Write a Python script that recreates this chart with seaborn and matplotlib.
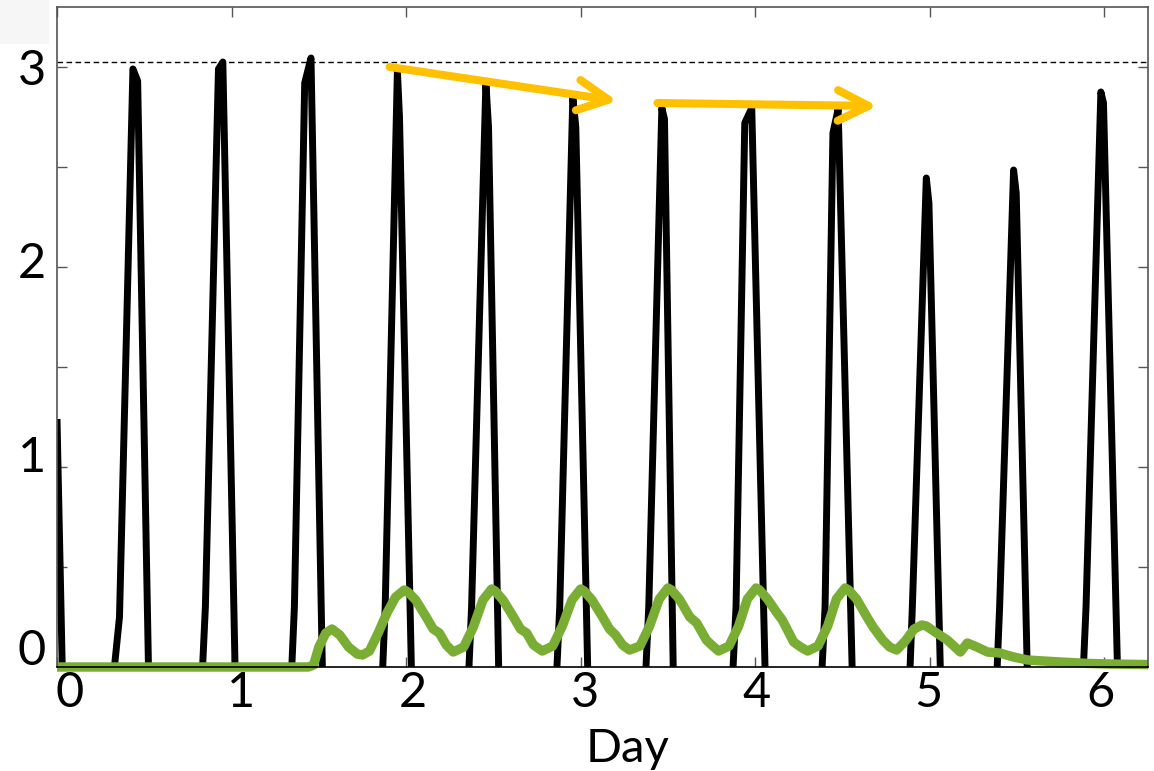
import matplotlib
matplotlib.use("Agg")
import matplotlib.pyplot as plt
from matplotlib.patches import Rectangle
from matplotlib.transforms import ScaledTranslation
import seaborn as sns
import pandas as pd

# Black trace: vertices (day, level), one group per pulse
black_day = [0.0, 0.03,
             0.329, 0.358, 0.435, 0.462, 0.524,
             0.834, 0.850, 0.925, 0.950, 1.020,
             1.345, 1.360, 1.419, 1.455, 1.520,
             1.866, 1.880, 1.950, 1.962, 2.030,
             2.360, 2.375, 2.457, 2.472, 2.530,
             2.864, 2.880, 2.955, 2.972, 3.040,
             3.374, 3.390, 3.465, 3.480, 3.530,
             3.873, 3.890, 3.940, 3.980, 4.056,
             4.383, 4.400, 4.445, 4.475, 4.555,
             4.887, 4.900, 4.980, 4.995, 5.060,
             5.386, 5.400, 5.480, 5.495, 5.558,
             5.880, 5.895, 5.980, 5.995, 6.075]
black_level = [1.24, 0.0,
               0.0, 0.25, 2.99, 2.93, 0.0,
               0.0, 0.30, 2.99, 3.025, 0.0,
               0.0, 0.30, 2.92, 3.045, 0.0,
               0.0, 0.30, 2.98, 2.75, 0.0,
               0.0, 0.30, 2.92, 2.70, 0.0,
               0.0, 0.30, 2.85, 2.70, 0.0,
               0.0, 0.30, 2.795, 2.74, 0.0,
               0.0, 0.30, 2.72, 2.795, 0.0,
               0.0, 0.30, 2.67, 2.79, 0.0,
               0.0, 0.30, 2.445, 2.32, 0.0,
               0.0, 0.30, 2.485, 2.37, 0.0,
               0.0, 0.30, 2.875, 2.82, 0.0]
black_pulse = [0, 0,
               1, 1, 1, 1, 1,
               2, 2, 2, 2, 2,
               3, 3, 3, 3, 3,
               4, 4, 4, 4, 4,
               5, 5, 5, 5, 5,
               6, 6, 6, 6, 6,
               7, 7, 7, 7, 7,
               8, 8, 8, 8, 8,
               9, 9, 9, 9, 9,
               10, 10, 10, 10, 10,
               11, 11, 11, 11, 11,
               12, 12, 12, 12, 12]

# Green trace: vertices (day, level)
green_day = [0.0, 1.44, 1.47, 1.50, 1.54, 1.575, 1.62, 1.67, 1.72, 1.75, 1.79, 1.84, 1.89, 1.94, 1.99,
             2.01, 2.055, 2.115, 2.155, 2.19, 2.23, 2.27, 2.33, 2.385, 2.44, 2.49,
             2.51, 2.555, 2.615, 2.655, 2.69, 2.73, 2.78, 2.84, 2.895, 2.95, 3.00,
             3.02, 3.065, 3.125, 3.165, 3.20, 3.24, 3.28, 3.34, 3.395, 3.45, 3.50,
             3.52, 3.565, 3.625, 3.665, 3.72, 3.75, 3.79, 3.85, 3.905, 3.955, 4.005,
             4.025, 4.07, 4.125, 4.155, 4.22, 4.26, 4.30, 4.36, 4.415, 4.465, 4.515,
             4.535, 4.58, 4.64, 4.675, 4.73, 4.77, 4.81, 4.86, 4.91, 4.955,
             4.98, 5.03, 5.10, 5.175, 5.215, 5.27, 5.33, 5.40, 5.48, 5.56, 5.65, 5.75, 5.90, 6.03, 6.25]
green_level = [0.0, 0.0, 0.01, 0.10, 0.17, 0.19, 0.16, 0.10, 0.065, 0.06, 0.08, 0.17, 0.27, 0.35, 0.385,
               0.375, 0.335, 0.25, 0.19, 0.17, 0.11, 0.075, 0.10, 0.20, 0.335, 0.39,
               0.38, 0.335, 0.25, 0.19, 0.17, 0.11, 0.08, 0.105, 0.205, 0.335, 0.39,
               0.38, 0.335, 0.25, 0.19, 0.16, 0.11, 0.085, 0.105, 0.205, 0.34, 0.395,
               0.385, 0.34, 0.25, 0.22, 0.135, 0.11, 0.08, 0.105, 0.205, 0.34, 0.395,
               0.385, 0.34, 0.27, 0.235, 0.125, 0.10, 0.08, 0.105, 0.205, 0.34, 0.395,
               0.385, 0.34, 0.25, 0.20, 0.135, 0.10, 0.085, 0.13, 0.19, 0.21,
               0.205, 0.175, 0.135, 0.075, 0.12, 0.10, 0.075, 0.07, 0.05, 0.035, 0.03, 0.025, 0.018, 0.015, 0.012]

ref_level = 3.025
x_ticks = [0, 1, 2, 3, 4, 5, 6]
y_ticks = [0, 1, 2, 3]
y_minor = [0.5, 1.5, 2.5]

# Trend arrows: (start, end) in data coordinates
trend_arrows = [((1.906, 3.0), (3.21, 2.83)),
                ((3.44, 2.82), (4.70, 2.805))]

sns.set_style("ticks")
plt.rcParams["font.family"] = ["Lato", "DejaVu Sans"]
plt.rcParams["text.color"] = "black"
plt.rcParams["xtick.labelcolor"] = "black"
plt.rcParams["ytick.labelcolor"] = "black"
plt.rcParams["axes.labelcolor"] = "black"

fig = plt.figure(figsize=(11.54, 7.71), dpi=100)
ax = fig.add_axes([57 / 1154, 1 - 667 / 771, 1091 / 1154, 660 / 771])
fig.patches.append(Rectangle((0, 1 - 43 / 771), 48 / 1154, 43 / 771,
                             transform=fig.transFigure, color="#f6f6f6", zorder=-10))

black = pd.DataFrame({"day": black_day, "level": black_level, "pulse": black_pulse})
green = pd.DataFrame({"day": green_day, "level": green_level})

sns.lineplot(data=black, x="day", y="level", units="pulse", sort=False, estimator=None,
             color="black", lw=5.0, ax=ax, zorder=3,
             solid_joinstyle="round", solid_capstyle="butt")
sns.lineplot(data=green, x="day", y="level", sort=False, estimator=None,
             color="#7AAD33", lw=6.8, ax=ax, clip_on=False, zorder=4,
             solid_joinstyle="round", solid_capstyle="butt")

ax.axhline(ref_level, color="black", lw=1.0, ls=(0, (4, 2.5)), zorder=2)

for start, end in trend_arrows:
    ax.annotate("", xy=end, xytext=start,
                arrowprops=dict(arrowstyle="->,head_length=1.1,head_width=0.55",
                                mutation_scale=20, lw=5.8, color="#FFC000",
                                capstyle="round", joinstyle="round",
                                shrinkA=0, shrinkB=0),
                zorder=5)

ax.set_xlim(0, 6.25)
ax.set_ylim(0, 3.3)
ax.set_xticks(x_ticks)
ax.set_yticks(y_ticks)
ax.set_yticks(y_minor, minor=True)
ax.set_xticklabels([str(v) for v in x_ticks])
ax.set_yticklabels([str(v) for v in y_ticks])

ax.tick_params(which="both", direction="in", top=True, right=True,
               length=7.5, width=1.0, color="#555555", labelcolor="black")
ax.tick_params(axis="x", labelsize=35, pad=3)
ax.tick_params(axis="y", labelsize=35, pad=8)

for side in ["left", "right", "top"]:
    ax.spines[side].set_color("#555555")
    ax.spines[side].set_linewidth(1.2)
ax.spines["bottom"].set_color("black")
ax.spines["bottom"].set_linewidth(1.2)
for sp in ax.spines.values():
    sp.set_zorder(6)

ax.set_ylabel("")
ax.set_xlabel("Day", fontsize=34, color="black")
ax.xaxis.set_label_coords(0.523, -0.092)

# Slight nudges of the tick labels
for i, lab in enumerate(ax.get_xticklabels()):
    dx = (12.4 - 2.7 * i) / 100
    lab.set_transform(lab.get_transform() + ScaledTranslation(dx, 0, fig.dpi_scale_trans))
for lab, dy in zip(ax.get_yticklabels(), [20, 13.4, 6.6, 0]):
    lab.set_transform(lab.get_transform() + ScaledTranslation(0, dy / 100, fig.dpi_scale_trans))

fig.savefig("out.png", dpi=100)
